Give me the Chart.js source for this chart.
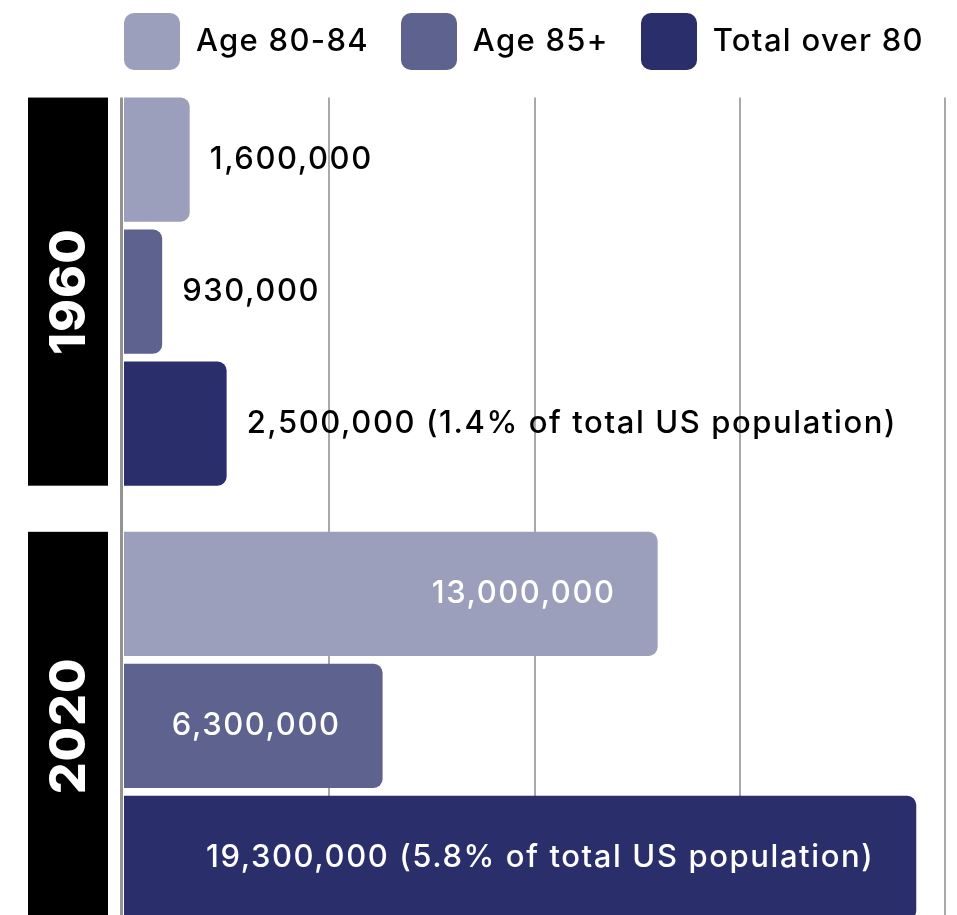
<!DOCTYPE html>
<html>
<head>
<meta charset="utf-8">
<script src="https://cdn.jsdelivr.net/npm/chart.js@4"></script>
<style>
  html, body { margin: 0; padding: 0; background: #fff; overflow: hidden; }
  #wrap { position: relative; width: 957px; height: 943px; }
  #legend { position: absolute; top: 13px; left: 124px; display: flex; align-items: center;
    font-family: Inter, "Open Sans", sans-serif; font-weight: 500; font-size: 31px; color: #000;
    letter-spacing: 1.3px; }
  #legend .item { display: flex; align-items: center; margin-right: 32px; }
  #legend .txt { position: relative; top: -2px; }
  #legend .box { width: 56px; height: 57px; border-radius: 10px; margin-right: 16px; }
</style>
</head>
<body>
<div id="wrap">
  <canvas id="chart" width="957" height="943"></canvas>
  <div id="legend"></div>
</div>
<script>
// data
const years = ['1960', '2020'];
const seriesNames = ['Age 80-84', 'Age 85+', 'Total over 80'];
const age80to84 = [1600000, 13000000];
const age85plus = [930000, 6300000];
const totalOver80 = [2500000, 19300000];
const shareOfUsPop = [1.4, 5.8];   // % of total US population, per year
const xTicks = [0, 5000000, 10000000, 15000000, 20000000];
const colors = ['#9b9fbb', '#5e628e', '#2a2e6a'];

const FONT = 'Inter, "Open Sans", sans-serif';

function fmt(v) { return v.toLocaleString('en-US'); }

function labelFor(ds, j, v) {
  let s = fmt(v);
  if (ds === 2) s += ` (${shareOfUsPop[j]}% of total US population)`;
  return s;
}

// legend (html)
const legendEl = document.getElementById('legend');
seriesNames.forEach((name, i) => {
  legendEl.innerHTML += `<div class="item"><span class="box" style="background:${colors[i]}"></span><span class="txt">${name}</span></div>`;
});

// grid, axis line, year boxes, value labels
const decor = {
  id: 'decor',
  beforeDatasetsDraw(chart) {
    const { ctx, chartArea, scales: { x } } = chart;
    const firstMeta = chart.getDatasetMeta(0);
    const lastMeta = chart.getDatasetMeta(2);
    const top = firstMeta.data[0].y - firstMeta.data[0].height / 2;
    ctx.save();
    ctx.strokeStyle = '#a9a9ab';
    ctx.lineWidth = 2;
    x.ticks.forEach(t => {
      if (t.value === 0) return;
      const px = Math.round(x.getPixelForValue(t.value));
      ctx.beginPath();
      ctx.moveTo(px, top);
      ctx.lineTo(px, chartArea.bottom);
      ctx.stroke();
    });
    ctx.strokeStyle = '#939393';
    ctx.lineWidth = 3;
    ctx.beginPath();
    ctx.moveTo(chartArea.left - 2.5, top);
    ctx.lineTo(chartArea.left - 2.5, chartArea.bottom);
    ctx.stroke();

    years.forEach((yr, j) => {
      const a = firstMeta.data[j], b = lastMeta.data[j];
      const y0 = a.y - a.height / 2, y1 = b.y + b.height / 2;
      const bx = chartArea.left - 96;
      ctx.fillStyle = '#000';
      ctx.fillRect(bx, y0, 80, y1 - y0);
      ctx.save();
      ctx.translate(bx + 40, (y0 + y1) / 2);
      ctx.rotate(-Math.PI / 2);
      ctx.fillStyle = '#fff';
      ctx.font = `800 50px ${FONT}`;
      ctx.letterSpacing = '1px';
      ctx.textAlign = 'center';
      ctx.textBaseline = 'middle';
      ctx.fillText(yr, 0, 2);
      ctx.restore();
    });
    ctx.restore();
  },
  afterDatasetsDraw(chart) {
    const { ctx } = chart;
    ctx.save();
    ctx.font = `500 31px ${FONT}`;
    ctx.letterSpacing = '1.6px';
    ctx.textBaseline = 'middle';
    chart.data.datasets.forEach((ds, i) => {
      chart.getDatasetMeta(i).data.forEach((bar, j) => {
        const text = labelFor(i, j, ds.data[j]);
        const w = ctx.measureText(text).width;
        const len = bar.x - bar.base;
        if (len - w > 60) {
          ctx.fillStyle = '#fff';
          ctx.textAlign = 'right';
          ctx.fillText(text, bar.x - 42, bar.y);
        } else {
          ctx.fillStyle = '#000';
          ctx.textAlign = 'left';
          ctx.fillText(text, bar.x + 20, bar.y);
        }
      });
    });
    ctx.restore();
  }
};

const seriesData = [age80to84, age85plus, totalOver80];

new Chart(document.getElementById('chart'), {
  type: 'bar',
  data: {
    labels: years,
    datasets: seriesNames.map((name, i) => ({
      label: name,
      data: seriesData[i],
      backgroundColor: colors[i],
      borderRadius: 9,
      borderSkipped: 'start',
      barPercentage: 0.94,
      categoryPercentage: 0.912
    }))
  },
  options: {
    indexAxis: 'y',
    responsive: false,
    animation: false,
    layout: { padding: { top: 74.5, left: 124, right: 12, bottom: 0 } },
    plugins: { legend: { display: false }, tooltip: { enabled: false } },
    scales: {
      x: {
        display: false,
        min: xTicks[0],
        max: xTicks[xTicks.length - 1],
        afterBuildTicks: scale => { scale.ticks = xTicks.map(v => ({ value: v })); }
      },
      y: { display: false }
    }
  },
  plugins: [decor]
});
</script>
</body>
</html>
